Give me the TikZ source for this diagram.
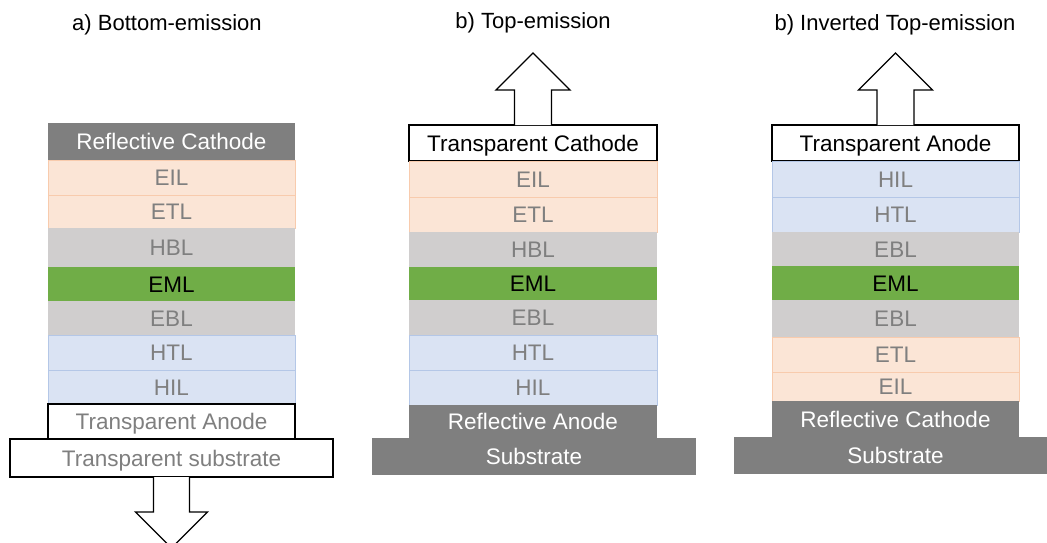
\documentclass[tikz,border=0pt]{standalone}
\usepackage{fontspec}
\setmainfont{Liberation Sans}
\usetikzlibrary{calc}
\definecolor{dgray}{HTML}{7F7F7F}
\definecolor{tgray}{HTML}{7F7F7F}
\definecolor{ofill}{HTML}{FBE5D6}
\definecolor{oline}{HTML}{F8CBAD}
\definecolor{gfill}{HTML}{D0CECE}
\definecolor{green}{HTML}{70AD47}
\definecolor{bfill}{HTML}{DAE3F3}
\definecolor{bline}{HTML}{B4C7E7}
\tikzset{
  lay/.style={rectangle, inner sep=0pt, outer sep=0pt, minimum width=247pt,
    text height=16.1pt, text depth=0pt, font=\fontsize{22.5}{27}\selectfont, text=tgray},
  orange/.style={lay, fill=ofill, draw=oline, line width=1pt},
  grayl/.style={lay, fill=gfill},
  eml/.style={lay, fill=green, text=black},
  blue/.style={lay, fill=bfill, draw=bline, line width=1pt},
  refl/.style={lay, fill=dgray, text=white},
  transp/.style={lay, fill=white, draw=black, line width=1.3pt},
  title/.style={anchor=base, font=\fontsize{22}{26}\selectfont, text=black},
  blockarrow/.style={draw=black, line width=1.3pt, fill=white, line join=miter},
}
\begin{document}
\begin{tikzpicture}[x=1pt, y=-1pt]
\clip (0,0) rectangle (1047,542);
\fill[white] (0,0) rectangle (1047,542);

% titles
\node[title] (ta) at (167,30) {a) Bottom-emission};
\node[title] (tb) at (533,28) {b) Top-emission};
\node[title] (tc) at (895,30) {b) Inverted Top-emission};

% ---------- a) bottom emission ----------
\node[refl, minimum height=37pt] (aRC) at (171.5,141.5) {Reflective Cathode};
\node[orange, minimum height=35pt] (aEIL) at (171.5,177.5) {EIL};
\node[orange, minimum height=33pt] (aETL) at (171.5,211.5) {ETL};
\node[grayl, minimum height=39pt] (aHBL) at (171.5,247.5) {HBL};
\node[eml, minimum height=34pt] (aEML) at (171.5,284) {EML};
\node[grayl, minimum height=34pt] (aEBL) at (171.5,318) {EBL};
\node[blue, minimum height=35pt] (aHTL) at (171.5,352.5) {HTL};
\node[blue, minimum height=34pt] (aHIL) at (171.5,387) {HIL};
\node[transp, minimum height=35pt] (aTA) at (171.5,421.5) {Transparent Anode};
\node[transp, minimum height=38pt, minimum width=323pt] (aTS) at (171.5,458) {Transparent substrate};
\draw[blockarrow] ($(aTS.south)+(-18,0)$) -- ++(0,35) -- ++(-18,0) -- ($(aTS.south)+(0,71)$)
  -- ($(aTS.south)+(36,35)$) -- ++(-18,0) -- ($(aTS.south)+(18,0)$);

% ---------- b) top emission ----------
\node[transp, minimum height=36pt, minimum width=248pt, text=black] (bTC) at (533,143) {Transparent Cathode};
\node[orange, minimum height=36pt, minimum width=248pt] (bEIL) at (533,179) {EIL};
\node[orange, minimum height=35pt, minimum width=248pt] (bETL) at (533,214.5) {ETL};
\node[grayl, minimum height=35pt, minimum width=248pt] (bHBL) at (533,249.5) {HBL};
\node[eml, minimum height=33pt, minimum width=248pt] (bEML) at (533,283.5) {EML};
\node[grayl, minimum height=35pt, minimum width=248pt] (bEBL) at (533,317.5) {EBL};
\node[blue, minimum height=35pt, minimum width=248pt] (bHTL) at (533,352.5) {HTL};
\node[blue, minimum height=35pt, minimum width=248pt] (bHIL) at (533,387.5) {HIL};
\node[refl, minimum height=33pt, minimum width=248pt] (bRA) at (533,421.5) {Reflective Anode};
\node[refl, minimum height=37pt, minimum width=324pt] (bSub) at (534,456.5) {Substrate};
\draw[blockarrow] ($(bTC.north)+(-18.5,0)$) -- ++(0,-35) -- ++(-18.5,0) -- ($(bTC.north)+(0,-72)$)
  -- ($(bTC.north)+(37,-35)$) -- ++(-18.5,0) -- ($(bTC.north)+(18.5,0)$);

% ---------- c) inverted top emission ----------
\node[transp, minimum height=36pt, text=black] (cTA) at (895.5,143) {Transparent Anode};
\node[blue, minimum height=36pt] (cHIL) at (895.5,179) {HIL};
\node[blue, minimum height=35pt] (cHTL) at (895.5,214.5) {HTL};
\node[grayl, minimum height=34pt] (cEBL) at (895.5,249) {EBL};
\node[eml, minimum height=34pt] (cEML) at (895.5,283) {EML};
\node[grayl, minimum height=37pt] (cEBLb) at (895.5,318.5) {EBL};
\node[orange, minimum height=35pt] (cETL) at (895.5,354.5) {ETL};
\node[orange, minimum height=29pt] (cEIL) at (895.5,386.5) {EIL};
\node[refl, minimum height=36pt] (cRC) at (895.5,419) {Reflective Cathode};
\node[refl, minimum height=37pt, minimum width=324pt] (cSub) at (895.5,455.5) {Substrate};
\draw[blockarrow] ($(cTA.north)+(-18.5,0)$) -- ++(0,-35) -- ++(-18.5,0) -- ($(cTA.north)+(0,-72)$)
  -- ($(cTA.north)+(37,-35)$) -- ++(-18.5,0) -- ($(cTA.north)+(18.5,0)$);
\end{tikzpicture}
\end{document}
